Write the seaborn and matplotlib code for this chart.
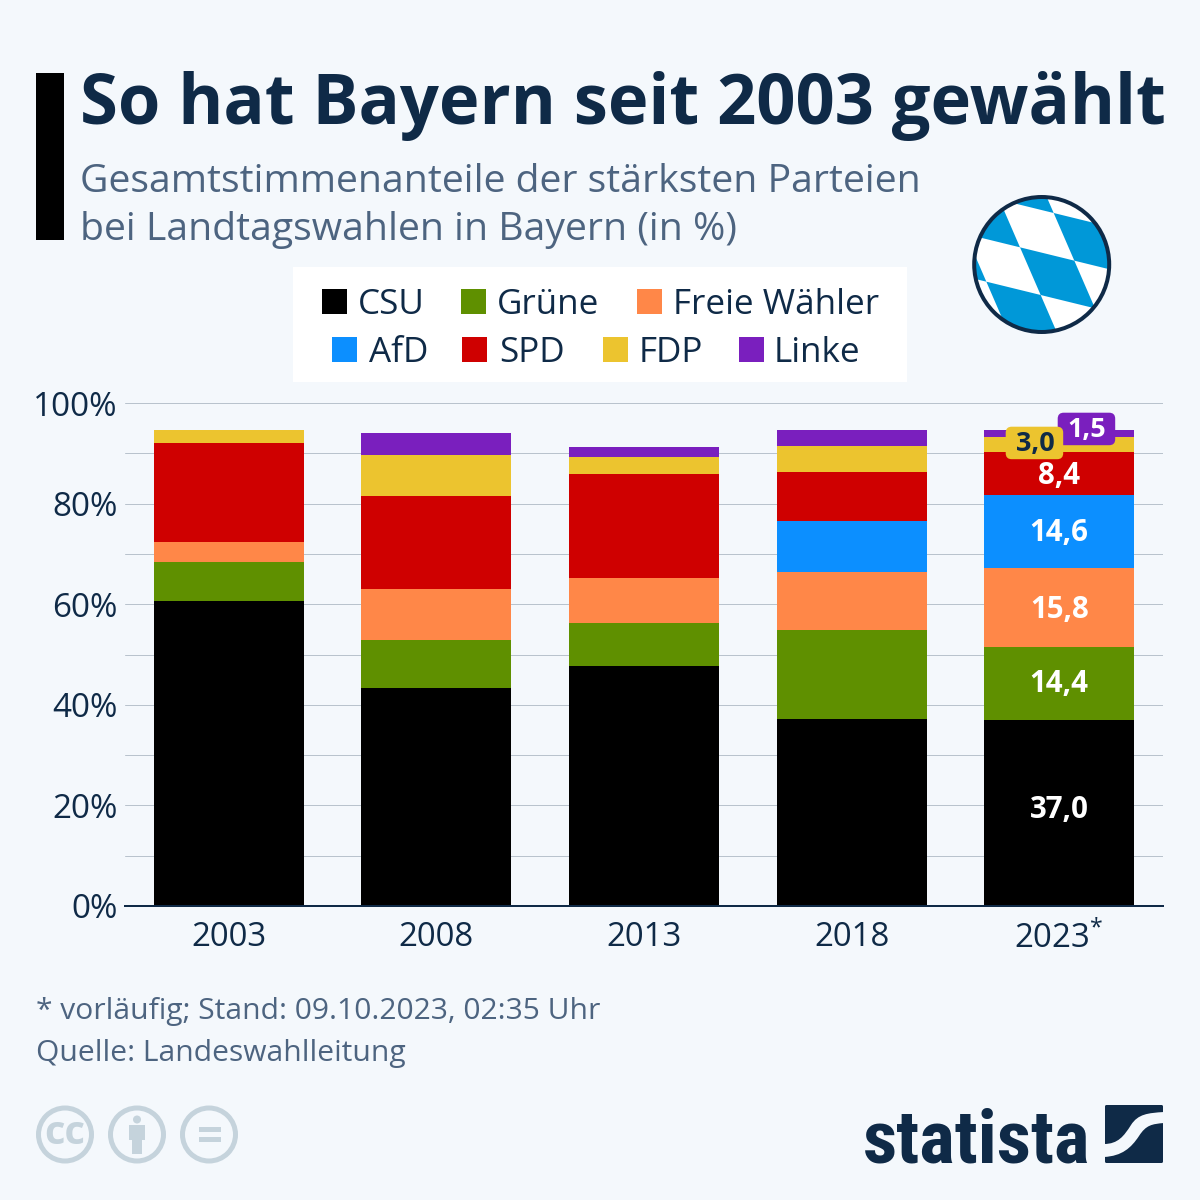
import matplotlib
matplotlib.use("Agg")
import matplotlib.pyplot as plt
from matplotlib import font_manager as fm
from matplotlib.patches import Circle, FancyBboxPatch, Polygon, PathPatch, Rectangle
from matplotlib.path import Path
import numpy as np
import pandas as pd
import seaborn as sns

years = ["2003", "2008", "2013", "2018", "2023*"]
parties = ["CSU", "Grüne", "Freie Wähler", "AfD", "SPD", "FDP", "Linke"]
csu = [60.7, 43.4, 47.7, 37.2, 37.0]
gruene = [7.7, 9.4, 8.6, 17.6, 14.4]
fw = [4.0, 10.2, 9.0, 11.6, 15.8]
afd = [0.0, 0.0, 0.0, 10.2, 14.6]
spd = [19.6, 18.6, 20.6, 9.7, 8.4]
fdp = [2.6, 8.0, 3.3, 5.1, 3.0]
linke = [0.0, 4.4, 2.1, 3.2, 1.5]
series = [csu, gruene, fw, afd, spd, fdp, linke]
colors = ["#000000", "#5f9000", "#ff8748", "#0c8fff", "#cf0000", "#ecc42f", "#7a1fbe"]
title = "So hat Bayern seit 2003 gewählt"
subtitle = ["Gesamtstimmenanteile der stärksten Parteien", "bei Landtagswahlen in Bayern (in %)"]
footer = ["* vorläufig; Stand: 09.10.2023, 02:35 Uhr", "Quelle: Landeswahlleitung"]

BG = "#f4f8fc"
NAVY = "#0f2a47"
GREY = "#4d6480"
ICON = "#c5d3dc"
PT = 0.72  # points per pixel at 100 dpi

sns.set_theme(style="white")
plt.rcParams["font.family"] = ["Open Sans", "DejaVu Sans"]
plt.rcParams["mathtext.fontset"] = "custom"
plt.rcParams["mathtext.rm"] = "Open Sans"
plt.rcParams["mathtext.default"] = "rm"

fig = plt.figure(figsize=(12, 12), dpi=100, facecolor=BG)
ax = fig.add_axes([125 / 1200, 1 - 906 / 1200, (1163 - 125) / 1200, (906 - 403) / 1200])
ax.set_facecolor("none")

bottom = np.zeros(len(years))
for name, vals, col in zip(parties, series, colors):
    df = pd.DataFrame({"year": years, "share": vals})
    sns.barplot(data=df, x="year", y="share", color=col, saturation=1, width=0.7225,
                bottom=bottom, ax=ax, zorder=3, linewidth=0)
    bottom = bottom + np.array(vals)

ax.set_xlim(-0.5, 4.5)
ax.set_ylim(0, 100)
ax.set_xlabel("")
ax.set_ylabel("")
ax.set_yticks(range(0, 101, 20))
ax.set_yticklabels([f"{v}%" for v in range(0, 101, 20)])
ax.set_yticks(range(0, 101, 10), minor=True)
ax.grid(True, axis="y", which="both", color="#b9c3cd", lw=1.0 * PT, zorder=0)
ax.grid(False, axis="x")
ax.tick_params(axis="y", which="both", length=0, pad=5.5, labelsize=33.3 * PT, labelcolor=NAVY)
ax.tick_params(axis="x", length=0, pad=11, labelsize=33 * PT, labelcolor=NAVY)
ax.set_xticks(range(len(years)))
ax.set_xticklabels([y.replace("*", "$^{*}$") for y in years])
for s in ["top", "left", "right"]:
    ax.spines[s].set_visible(False)
ax.spines["bottom"].set_color(NAVY)
ax.spines["bottom"].set_linewidth(2 * PT)
ax.spines["bottom"].set_zorder(5)

# value labels for the last bar (small pixel nudges to sit like the reference)
idx = len(years) - 1
cum = 0.0
nudges = {"CSU": 3, "Grüne": 0, "Freie Wähler": -2, "AfD": -2, "SPD": -3}
for name, vals in zip(parties, series):
    v = vals[idx]
    if name in nudges:
        ax.annotate(f"{v:.1f}".replace(".", ","), (idx, cum + v / 2), xytext=(0, nudges[name] * PT),
                    textcoords="offset points", ha="center", va="center",
                    color="white", fontsize=29.5 * PT, fontweight="bold", zorder=6)
    cum += v

# overlay in pixel coordinates
ov = fig.add_axes([0, 0, 1, 1], zorder=10)
ov.set_xlim(0, 1200)
ov.set_ylim(1200, 0)
ov.axis("off")
ov.patch.set_alpha(0)

ov.add_patch(Rectangle((36, 73), 28, 167, color="black", lw=0))
ov.text(80, 106, title, fontsize=68.7 * PT, fontweight="bold", color=NAVY, va="center", ha="left")
ov.text(80, 182, subtitle[0], fontsize=39.1 * PT, color=GREY, va="center", ha="left")
ov.text(80, 230, subtitle[1], fontsize=39.1 * PT, color=GREY, va="center", ha="left")

# legend
ov.add_patch(Rectangle((293, 267), 614, 114.5, color="white", lw=0))
legend_layout = [(322, 301, 358), (461, 301, 497), (637, 301, 673), (332, 349, 369), (462, 349, 499), (603, 349, 639), (739, 349, 774)]
for (lx, ly, tx), name, col in zip(legend_layout, parties, colors):
    ov.add_patch(Rectangle((lx, ly - 12.5), 25, 25, color=col, lw=0))
    ov.text(tx, ly + 4, name, fontsize=35 * PT, color=NAVY, va="center", ha="left")

# pills
def pill(x0, y0, w, h, fc, tc, label):
    ov.add_patch(FancyBboxPatch((x0 + 6, y0 + 6), w - 12, h - 12, boxstyle="round,pad=6,rounding_size=6",
                                fc=fc, ec="none", mutation_aspect=1))
    ov.text(x0 + w / 2 + 0.5, y0 + h / 2 + 1.5, label, color=tc, fontsize=27 * PT, fontweight="bold",
            ha="center", va="center")

pill(1057.7, 412.7, 57.5, 32.5, colors[6], "white", f"{linke[idx]:.1f}".replace(".", ","))
pill(1005.7, 426.7, 57.5, 32.5, colors[5], NAVY, f"{fdp[idx]:.1f}".replace(".", ","))

# Bavarian flag
cx, cy, r = 1041.7, 264.5, 67
clip = Circle((cx, cy), r, transform=ov.transData)
ov.add_patch(Circle((cx, cy), r, fc="white", ec="none"))
o = np.array([180, 172]) / 3 + np.array([960, 190])
a = np.array([163, 40]) / 3
b = np.array([62, 143]) / 3
for i in range(-4, 5):
    for j in range(-4, 5):
        if (i + j) % 2 == 0:
            p0 = o + i * a + j * b
            poly = Polygon([p0, p0 + a, p0 + a + b, p0 + b], fc="#0098d8", ec="none")
            ov.add_patch(poly)
            poly.set_clip_path(clip)
ov.add_patch(Circle((cx, cy), r + 0.5, fc="none", ec=NAVY, lw=4 * PT))

# footer
ov.text(36, 1012, footer[0], fontsize=30.0 * PT, color=GREY, va="center", ha="left")
ov.text(36, 1054, footer[1], fontsize=30.0 * PT, color=GREY, va="center", ha="left")

# licence icons
for c in (65, 137, 209):
    ov.add_patch(Circle((c, 1134.5), 26.5, fc="none", ec=ICON, lw=5 * PT))
ov.text(65, 1133, "cc", fontsize=40 * PT, fontweight="bold", color=ICON, ha="center", va="center")
ov.add_patch(Circle((137, 1119.5), 4, fc=ICON, ec="none"))
ov.add_patch(Rectangle((129, 1125), 16, 15, fc=ICON, ec="none"))
ov.add_patch(Rectangle((132, 1140), 10, 13.5, fc=ICON, ec="none"))
ov.add_patch(Rectangle((199, 1127), 22, 5, fc=ICON, ec="none"))
ov.add_patch(Rectangle((199, 1137), 22, 5, fc=ICON, ec="none"))

# statista logo: narrowest installed face, size fitted to the logo's width
installed = {f.name for f in fm.fontManager.ttflist}
logo_faces = [n for n in ["Roboto Condensed", "Liberation Sans Narrow", "Open Sans Condensed", "DejaVu Sans Condensed", "Roboto"] if n in installed]
logo = ov.text(863, 1162.5, "statista", fontsize=70 * PT, fontweight="bold", color=NAVY, ha="left", va="baseline",
               family=logo_faces + ["DejaVu Sans"])
fig.canvas.draw()
w = logo.get_window_extent(fig.canvas.get_renderer()).width
logo.set_fontsize(70 * PT * 228 / w)

ov.add_patch(FancyBboxPatch((1105, 1105), 58, 58, boxstyle="round,pad=0,rounding_size=1.5", fc=NAVY, ec="none"))
sw = Path([(1104, 1144), (1118, 1144), (1124, 1136), (1131, 1125), (1138, 1114), (1148, 1113), (1164, 1112),
           (1164, 1123), (1152, 1124), (1146, 1125), (1139, 1136), (1131, 1148), (1122, 1156), (1104, 1157), (1104, 1144)],
          [Path.MOVETO, Path.CURVE4, Path.CURVE4, Path.CURVE4, Path.CURVE4, Path.CURVE4, Path.CURVE4,
           Path.LINETO, Path.CURVE4, Path.CURVE4, Path.CURVE4, Path.CURVE4, Path.CURVE4, Path.CURVE4, Path.CLOSEPOLY])
ov.add_patch(PathPatch(sw, fc=BG, ec="none"))

fig.savefig("out.png", dpi=100, facecolor=BG)
